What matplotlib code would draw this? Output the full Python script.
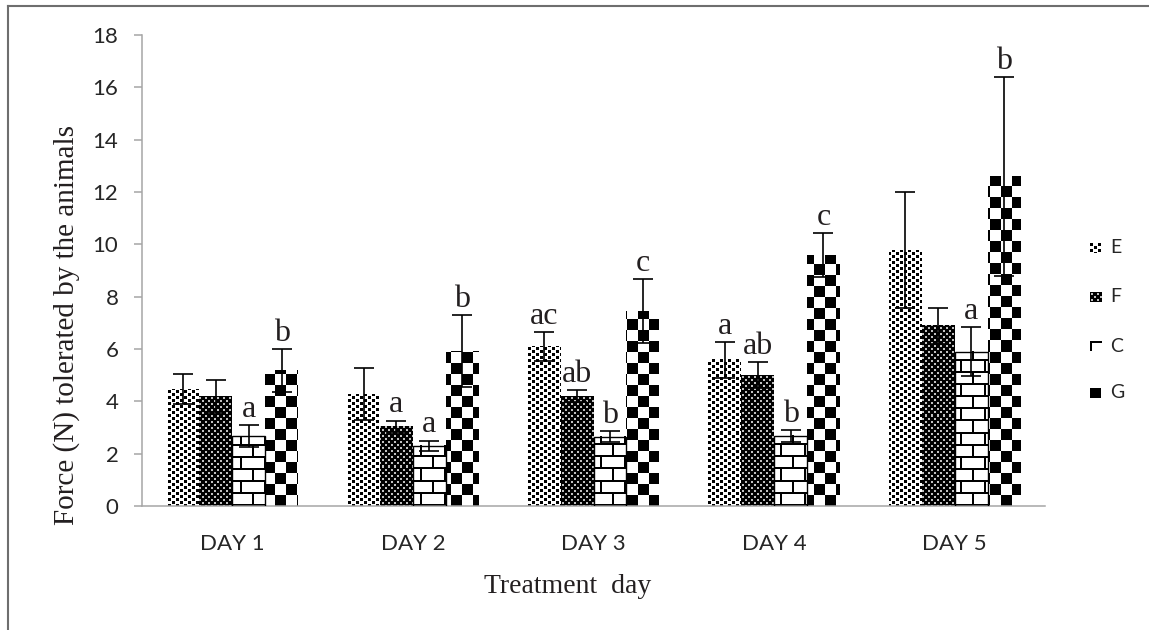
import numpy as np
import matplotlib
matplotlib.use("Agg")
import matplotlib.pyplot as plt
from matplotlib.lines import Line2D

# data
days = ["DAY 1", "DAY 2", "DAY 3", "DAY 4", "DAY 5"]
groups = ["E", "F", "C", "G"]

mean_e = [4.47, 4.28, 6.09, 5.58, 9.78]
mean_f = [4.19, 3.03, 4.20, 5.00, 6.89]
mean_c = [2.66, 2.31, 2.65, 2.68, 5.90]
mean_g = [5.18, 5.91, 7.45, 9.59, 12.59]

err_e = [0.58, 1.01, 0.56, 0.69, 2.23]
err_f = [0.62, 0.23, 0.22, 0.49, 0.69]
err_c = [0.42, 0.19, 0.20, 0.22, 0.94]
err_g = [0.81, 1.38, 1.23, 0.83, 3.79]

# significance letters ('' = none)
let_e = ["", "", "ac", "a", ""]
let_f = ["", "a", "ab", "ab", ""]
let_c = ["a", "a", "b", "b", "a"]
let_g = ["b", "b", "c", "c", "b"]

means = [mean_e, mean_f, mean_c, mean_g]
errs = [err_e, err_f, err_c, err_g]
letters = [let_e, let_f, let_c, let_g]

# pixel tiles for the fill patterns (0 = black, 1 = white)
tile_e = np.ones((6, 8))
tile_e[0:3, 0:3] = 0
tile_e[3:6, 4:7] = 0

tile_f = np.zeros((6, 6))
tile_f[1:3, 1:3] = 0.75
tile_f[4:6, 4:6] = 0.75

tile_c = np.ones((24, 24))
tile_c[0:2, :] = 0
tile_c[12:14, :] = 0
tile_c[2:12, 0:2] = 0
tile_c[14:24, 12:14] = 0

tile_g = np.ones((22, 22))
tile_g[0:11, 0:11] = 0
tile_g[11:22, 11:22] = 0

tiles = [tile_e, tile_f, tile_c, tile_g]


def texture(tile, w, h, ox=0, oy=0):
    th, tw = tile.shape
    big = np.tile(tile, (h // th + 2, w // tw + 2))
    return big[oy % th: oy % th + h, ox % tw: ox % tw + w]


W, H = 1149, 630
fig = plt.figure(figsize=(W / 100, H / 100), dpi=100)
ax = fig.add_axes([142 / W, 1 - 506 / H, 903 / W, 471 / H])

x = np.arange(len(days))
bw = 0.182
offs = (np.arange(4) - 1.5) * bw

ax.set_xlim(-0.5, len(days) - 0.5)
ax.set_ylim(0, 18)

for i in range(4):
    edge = "black" if groups[i] == "C" else "none"
    bars = ax.bar(x + offs[i], means[i], bw, facecolor="none", edgecolor=edge,
                  linewidth=1.0, zorder=3)
    for p in bars:
        (px0, py0) = ax.transData.transform((p.get_x(), 0))
        (px1, py1) = ax.transData.transform((p.get_x() + p.get_width(), p.get_height()))
        w = int(round(px1 - px0))
        h = int(round(py1 - py0))
        tex = texture(tiles[i], w, h, ox=int(round(px0)), oy=int(round(H - py1)))
        ax.imshow(tex, extent=(p.get_x(), p.get_x() + p.get_width(), 0, p.get_height()),
                  cmap="gray", vmin=0, vmax=1, interpolation="nearest",
                  aspect="auto", zorder=2)
    ax.errorbar(x + offs[i], means[i], yerr=errs[i], fmt="none", ecolor="black",
                elinewidth=1.2, capsize=7, capthick=1.2, zorder=4)
    for j in range(len(days)):
        if letters[i][j]:
            ax.annotate(letters[i][j], (x[j] + offs[i], means[i][j] + errs[i][j]),
                        xytext=(0, 6), textcoords="offset points", ha="center",
                        va="baseline", fontsize=23, family="Liberation Serif",
                        color="#231f20", zorder=5)

ax.set_xlim(-0.5, len(days) - 0.5)
ax.set_ylim(0, 18)
ax.set_yticks(np.arange(0, 19, 2))
ax.set_xticks(x)
ax.set_xticklabels(days)

for s in ["top", "right"]:
    ax.spines[s].set_visible(False)
for s in ["left", "bottom"]:
    ax.spines[s].set_color("#a6a6a6")
    ax.spines[s].set_linewidth(1.1)

ax.tick_params(axis="y", length=6, width=1.1, color="#a6a6a6", pad=11,
               labelsize=16, labelcolor="#262626")
ax.tick_params(axis="x", length=0, pad=20, labelsize=16, labelcolor="#262626")
for lab in ax.get_xticklabels() + ax.get_yticklabels():
    lab.set_family("Lato")

# axis titles
fig.text(67 / W, 1 - 325 / H, "Force (N) tolerated by the animals", rotation=90,
         ha="center", va="center", fontsize=21, family="Liberation Serif",
         color="#231f20")
fig.text(568 / W, 1 - 593 / H, "Treatment  day", ha="center", va="baseline",
         fontsize=20, family="Liberation Serif", color="#231f20")

# legend
leg_y = [248, 297, 346, 393]
for i in range(4):
    lax = fig.add_axes([1090 / W, 1 - (leg_y[i] + 5) / H, 12 / W, 10 / H])
    lax.imshow(texture(tiles[i], 12, 10), cmap="gray", vmin=0, vmax=1,
               interpolation="nearest", aspect="auto")
    lax.axis("off")
    fig.text(1110 / W, 1 - leg_y[i] / H, groups[i], ha="left", va="center",
             fontsize=14, family="Lato", color="#262626")

# outer chart frame
fig.add_artist(Line2D([8 / W, 1], [1 - 6 / H, 1 - 6 / H], color="#6e6e6e", lw=1.5))
fig.add_artist(Line2D([8 / W, 8 / W], [0, 1 - 6 / H], color="#6e6e6e", lw=1.5))

fig.savefig("out.png", dpi=100)
